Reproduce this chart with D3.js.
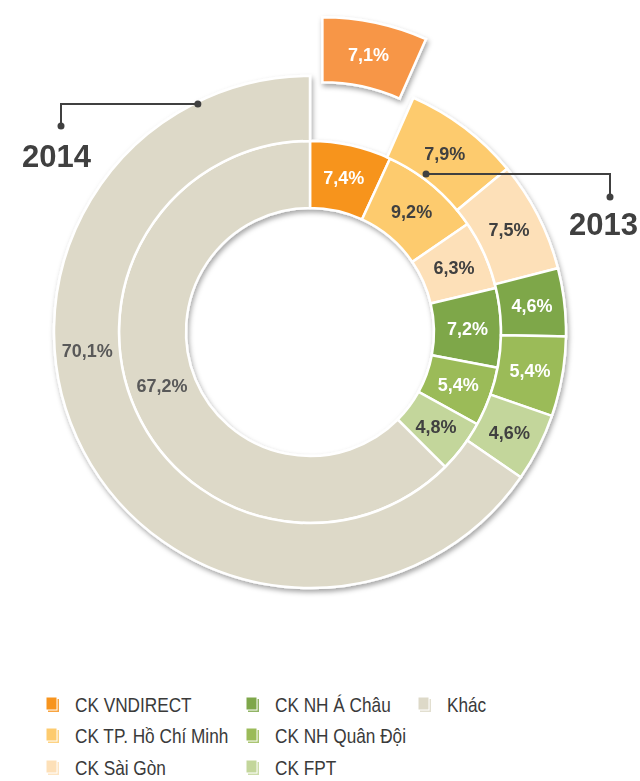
<!DOCTYPE html>
<html><head><meta charset="utf-8">
<script src="https://cdn.jsdelivr.net/npm/d3@7"></script>
<style>body{margin:0;background:#fff}svg{display:block}</style>
</head><body>
<svg id="c" width="640" height="781"></svg>
<script>
const categories = ["CK VNDIRECT","CK TP. Hồ Chí Minh","CK Sài Gòn","CK NH Á Châu","CK NH Quân Đội","CK FPT","Khác"];
const values2013 = [7.4, 9.2, 6.3, 7.2, 5.4, 4.8, 67.2];
const values2014 = [7.1, 7.9, 7.5, 4.6, 5.4, 4.6, 70.1];
const years = ["2013", "2014"];
const colors = ["#F7941E","#FDCB6E","#FDE0B8","#7EA74A","#9BBB59","#C3D69B","#DDD9C8"];
const explodedColor = "#F79646";
const labelColors = ["#ffffff","#404040","#404040","#ffffff","#ffffff","#404040","#595959"];

const svg = d3.select("#c");
const cx = 310, cy = 332;
const r0 = 124, r1 = 191, r2 = 256;
const explode = 60;

const defs = svg.append("defs");
const f = defs.append("filter").attr("id","sh").attr("x","-20%").attr("y","-20%").attr("width","140%").attr("height","140%");
f.append("feDropShadow").attr("dx",1.5).attr("dy",3).attr("stdDeviation",2.5).attr("flood-color","#000").attr("flood-opacity",0.35);

const pie = d3.pie().sort(null).value(d => d);
const innerArc = d3.arc().innerRadius(r0).outerRadius(r1);
const outerArc = d3.arc().innerRadius(r1).outerRadius(r2);
const fmt = v => d3.format(".1f")(v).replace(".", ",") + "%";

const g = svg.append("g").attr("transform", `translate(${cx},${cy})`);
const gs = g.append("g").attr("filter","url(#sh)");

function offsetOf(d, dist){
  const a = (d.startAngle + d.endAngle) / 2;
  return [Math.sin(a) * dist, -Math.cos(a) * dist];
}

const innerData = pie(values2013);
const outerData = pie(values2014);

gs.selectAll("path.in").data(innerData).enter().append("path")
  .attr("d", innerArc).attr("fill", (d,i) => colors[i])
  .attr("stroke","#fff").attr("stroke-width",2.5);
gs.selectAll("path.out").data(outerData).enter().append("path")
  .attr("d", outerArc)
  .attr("fill", (d,i) => i === 0 ? explodedColor : colors[i])
  .attr("transform", (d,i) => i === 0 ? `translate(${offsetOf(d, explode)})` : null)
  .attr("stroke","#fff").attr("stroke-width",2.5);

const lblStyle = sel => sel.attr("text-anchor","middle").attr("dominant-baseline","central")
  .style("font-family","Liberation Sans, Arial, sans-serif").style("font-weight","bold").style("font-size","18px");

g.selectAll("text.in").data(innerData).enter().append("text")
  .attr("x", (d,i) => i === 6 ? Math.sin(250*Math.PI/180) * (r0 + r1)/2 : innerArc.centroid(d)[0])
  .attr("y", (d,i) => i === 6 ? -Math.cos(250*Math.PI/180) * (r0 + r1)/2 : innerArc.centroid(d)[1])
  .attr("fill", (d,i) => labelColors[i]).text(d => fmt(d.data)).call(lblStyle);

g.selectAll("text.out").data(outerData).enter().append("text")
  .attr("x", (d,i) => {
    if (i === 6) { const a = 265 * Math.PI/180; return Math.sin(a) * (r1 + r2)/2; }
    return outerArc.centroid(d)[0] + (i === 0 ? offsetOf(d, explode)[0] : 0);
  })
  .attr("y", (d,i) => {
    if (i === 6) { const a = 265 * Math.PI/180; return -Math.cos(a) * (r1 + r2)/2; }
    return outerArc.centroid(d)[1] + (i === 0 ? offsetOf(d, explode)[1] : 0);
  })
  .attr("fill", (d,i) => labelColors[i]).text(d => fmt(d.data)).call(lblStyle);

const lineCol = "#404040";
function callout(angleDeg, radius, xEnd, yDrop, label, tx, ty){
  const a = angleDeg * Math.PI / 180;
  const px = cx + Math.sin(a) * radius, py = cy - Math.cos(a) * radius;
  svg.append("path").attr("d", `M${px},${py}H${xEnd}V${yDrop}`)
    .attr("fill","none").attr("stroke",lineCol).attr("stroke-width",2);
  svg.append("circle").attr("cx",px).attr("cy",py).attr("r",3.5).attr("fill",lineCol);
  svg.append("circle").attr("cx",xEnd).attr("cy",yDrop).attr("r",3.5).attr("fill",lineCol);
  svg.append("text").attr("x",tx).attr("y",ty).text(label)
    .attr("fill",lineCol)
    .style("font-family","Liberation Sans, Arial, sans-serif").style("font-weight","bold").style("font-size","31px");
}
callout(36.3, 196, 610, 197, years[0], 569, 235);
callout(-26.2, 254, 61, 126, years[1], 22, 167);

const colX = [46, 246, 418], textX = [75, 275, 447], rowY = [705, 736, 768];
const lg = svg.append("g");
categories.forEach((c, i) => {
  const col = Math.floor(i / 3), row = i % 3;
  const x = colX[col], y = rowY[row];
  lg.append("rect").attr("x", x + 2).attr("y", y - 6).attr("width", 11).attr("height", 13)
    .attr("fill", colors[i]).attr("opacity", 0.85);
  lg.append("rect").attr("x", x).attr("y", y - 8).attr("width", 11).attr("height", 13)
    .attr("fill", colors[i]).attr("stroke", "#fff").attr("stroke-width", 1);
  lg.append("text").attr("transform", `translate(${textX[col]},${y + 7}) scale(0.82,1)`)
    .text(c).attr("fill", "#3a3a3a")
    .style("font-family","Liberation Sans, Arial, sans-serif").style("font-size","21px");
});
</script>
</body></html>
